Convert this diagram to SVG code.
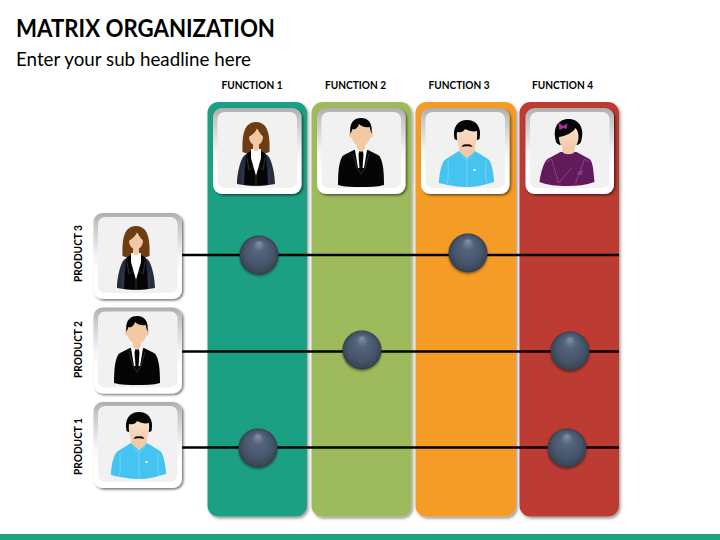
<svg xmlns="http://www.w3.org/2000/svg" xmlns:xlink="http://www.w3.org/1999/xlink" width="720" height="540" viewBox="0 0 720 540">
<style>
.t{font-family:"Lato","Open Sans","Liberation Sans",sans-serif;fill:#000}
.title{font-size:24.500px;font-weight:700}
.sub{font-size:18.600px}
.lab{font-size:11.300px;font-weight:700;text-anchor:middle}
.col{filter:url(#ds)}
.ln{stroke:#000;stroke-width:2.400;fill:none}
.skin{fill:#f3c9a5}
.skin2{fill:url(#skinG)}
.blk{fill:#050505}
.wht{fill:#fff}
.blue{fill:#45c4f1}
.bl2{stroke:#8fdcf6;stroke-width:.6;fill:none}
.pur{fill:#621a5c}
.pl{stroke:#a0609c;stroke-width:.6;fill:none}
.jk{stroke:#3a4252;stroke-width:.7;fill:none}
</style>
<defs>
<filter id="ds" x="-10%" y="-5%" width="120%" height="110%"><feDropShadow dx="1.500" dy="2" stdDeviation="1.500" flood-color="#000" flood-opacity=".4"/></filter>
<filter id="cs" x="-10%" y="-10%" width="125%" height="125%"><feDropShadow dx="1.500" dy="1.500" stdDeviation="1.200" flood-color="#000" flood-opacity=".55"/></filter>
<filter id="bs" x="-20%" y="-20%" width="140%" height="140%"><feDropShadow dx="0" dy="1.500" stdDeviation="1" flood-color="#000" flood-opacity=".45"/></filter>
<linearGradient id="edge" x1="0" y1="0" x2="0" y2="1"><stop offset="0" stop-color="#aeaeae"/><stop offset=".12" stop-color="#c4c4c4"/><stop offset=".5" stop-color="#f4f4f4"/><stop offset=".7" stop-color="#fff"/></linearGradient>
<linearGradient id="skinG" x1="0" y1="0" x2="0" y2="1"><stop offset="0" stop-color="#f8e0cc"/><stop offset="1" stop-color="#f3c6a3"/></linearGradient>
<radialGradient id="ball" cx=".5" cy=".5" r=".5" fx=".5" fy=".18"><stop offset="0" stop-color="#8793a5"/><stop offset=".3" stop-color="#55647a"/><stop offset=".75" stop-color="#44546a"/><stop offset=".95" stop-color="#3a4554"/><stop offset="1" stop-color="#323b48"/></radialGradient>
<g id="card">
<rect x="0" y="0" width="88.500" height="86" rx="9" fill="url(#edge)" filter="url(#cs)"/>
<rect x="4.500" y="4" width="79.500" height="76" rx="7" fill="#f1f1f1"/>
</g>
<g id="woman">
<path d="M29.500 44C29 30 30 14 43 14C56 14 57 30 56.500 44C53 46 33 46 29.500 44Z" fill="#6f3d12"/>
<path d="M24 76C24 68 27 50 32 47L38 43H48L54 47C59 50 62 68 62 76C50 78 36 78 24 76Z" fill="#242d3d"/>
<path class="blk" d="M31 77L33 46L38 43L43 66L48 43L53 46L55 77C48 78 38 78 31 77Z"/>
<path class="wht" d="M38 41H48L48 50L43 68L38 50Z"/>
<path class="skin" d="M40 34H46V41L43 44L40 41Z"/>
<ellipse class="skin" cx="43" cy="29" rx="7" ry="8.500"/>
<path d="M35.500 29C39 27 43 24 44 20C46 24 48 27 50.500 29L51 19L43 16L35 19Z" fill="#6f3d12"/>
<path class="jk" d="M34 50L36 62L40 59M52 50L50 62L46 59M43 66V78M29 60L30 76M57 60L56 76"/>
</g>
<g id="man">
<path class="blk" d="M21 77C21 64 22 50 27 47L37 42H51L61 47C66 50 67 64 67 77C60 79 52 79 44 79C36 79 28 79 21 77Z"/>
<path class="wht" d="M38 42L44 39L50 42L47 60H41Z"/>
<path class="blk" d="M42.500 43H45.500L46.500 46L45.500 61L44 64L42.500 61L41.500 46Z"/>
<path class="skin" d="M40 34H48V41L44 44L40 41Z"/>
<ellipse class="skin" cx="33.800" cy="26" rx="1.800" ry="3.500"/>
<ellipse class="skin" cx="54.200" cy="26" rx="1.800" ry="3.500"/>
<ellipse class="skin" cx="44" cy="26" rx="9.800" ry="12"/>
<path class="blk" d="M33.500 26C32 16 36 10 44 10C52 10 56 16 54.500 26L52.500 19C48 20 44 18 42 16C41 20 38 22 35.500 21Z"/>
<path class="jk" d="M36 46L40 60L44 66L48 60L52 46"/>
</g>
<g id="manb">
<path class="blue" d="M18 75C18 68 20 54 25 51L38 43L46 50L54 43L67 51C71 54 73 68 73 74C64 77 54 79 46 79C36 79 26 77 18 75Z"/>
<path class="skin" d="M38 36H54V43L46 50L38 43Z"/>
<path class="blk" d="M33.500 31C31 19 37 12 46 12C55 12 61 19 58.500 31C57 33 35 33 33.500 31Z"/>
<path class="skin2" d="M36 24C41 25 43 23 44 21C48 23 52 24 56 23C57 33 54 45 46 45C38 45 35 33 36 24Z"/>
<path class="blk" d="M40.500 39C42 36 45 36 46 36.800C47 36 50 36 51.500 39C49 38 43 38 40.500 39Z"/>
<path class="bl2" d="M27 53C27 61 28 69 26 76M65 53C65 61 64 69 66 76M46 50V79M40 46L45 52M52 46L47 52"/>
<rect class="wht" x="52.500" y="61" width="2" height="2"/>
</g>
<g id="womanp">
<path class="pur" d="M14 74C15 66 18 54 22 51L35 44H51L64 51C68 54 68 66 69 74C60 77 52 78 42 78C30 78 22 77 14 74Z"/>
<path class="skin" d="M37 36H49V44C47 47 39 47 37 44Z"/>
<path class="blk" d="M31 35C26 21 32 11 43 11C54 11 60 21 55 35L52 37H34Z"/>
<path class="skin2" d="M33.500 29C41 28 48 24 50 20C52 22 53 25 53 29C53 36 49 42 43 42C37 42 33.500 36 33.500 29Z"/>
<path d="M33 15L38 18L42 15L41 21L38 20L34 22Z" fill="#b32fa6"/>
<path class="pl" d="M21 54L26 51L33 75M64 54L59 51L50 75M33 75L46 60"/>
<path d="M52 64L58 62L56 67L52 67Z" fill="#8a3a86"/>
</g>
<g id="sph"><circle r="19.500" fill="url(#ball)" filter="url(#bs)"/></g>
</defs>

<rect width="720" height="540" fill="#fff"/>
<text class="t title" x="16" y="37" textLength="259" lengthAdjust="spacingAndGlyphs">MATRIX ORGANIZATION</text>
<text class="t sub" x="16" y="66" textLength="235" lengthAdjust="spacingAndGlyphs">Enter your sub headline here</text>

<g id="function-1">
<rect class="col" x="207.500" y="102" width="99.500" height="414.500" rx="11" fill="#1fa083"/>
<text class="t lab" x="252" y="89" textLength="61" lengthAdjust="spacingAndGlyphs">FUNCTION 1</text>
<use xlink:href="#card" href="#card" x="213" y="108"/>
<use xlink:href="#woman" href="#woman" x="213" y="108"/>
</g>
<g id="function-2">
<rect class="col" x="311.500" y="102" width="100" height="414.500" rx="11" fill="#9dbb5b"/>
<text class="t lab" x="355.500" y="89" textLength="61" lengthAdjust="spacingAndGlyphs">FUNCTION 2</text>
<use xlink:href="#card" href="#card" x="317" y="108"/>
<use xlink:href="#man" href="#man" x="317" y="108"/>
</g>
<g id="function-3">
<rect class="col" x="415.500" y="102" width="100.500" height="414.500" rx="11" fill="#f59c27"/>
<text class="t lab" x="459" y="89" textLength="61" lengthAdjust="spacingAndGlyphs">FUNCTION 3</text>
<use xlink:href="#card" href="#card" x="421" y="108"/>
<use xlink:href="#manb" href="#manb" x="421" y="108"/>
</g>
<g id="function-4">
<rect class="col" x="519.500" y="102" width="99.500" height="414.500" rx="11" fill="#bc3a30"/>
<text class="t lab" x="562.500" y="89" textLength="61" lengthAdjust="spacingAndGlyphs">FUNCTION 4</text>
<use xlink:href="#card" href="#card" x="525.500" y="108"/>
<use xlink:href="#womanp" href="#womanp" x="525.500" y="108"/>
</g>

<g id="connectors">
<path class="ln" d="M182 255H619"/>
<path class="ln" d="M182 351.500H619"/>
<path class="ln" d="M182 447.500H619"/>
</g>

<g id="product-3">
<text class="t lab" transform="translate(82 253.500) rotate(-90)" textLength="57" lengthAdjust="spacingAndGlyphs">PRODUCT 3</text>
<use xlink:href="#card" href="#card" x="93.500" y="213"/>
<use xlink:href="#woman" href="#woman" x="93" y="212"/>
</g>
<g id="product-2">
<text class="t lab" transform="translate(82 349.500) rotate(-90)" textLength="57" lengthAdjust="spacingAndGlyphs">PRODUCT 2</text>
<use xlink:href="#card" href="#card" x="93.500" y="307.500"/>
<use xlink:href="#man" href="#man" x="93" y="306"/>
</g>
<g id="product-1">
<text class="t lab" transform="translate(82 446.500) rotate(-90)" textLength="57" lengthAdjust="spacingAndGlyphs">PRODUCT 1</text>
<use xlink:href="#card" href="#card" x="93.500" y="402"/>
<use xlink:href="#manb" href="#manb" x="93" y="400"/>
</g>

<g id="node-p3-f1"><use xlink:href="#sph" href="#sph" x="259" y="255"/></g>
<g id="node-p3-f3"><use xlink:href="#sph" href="#sph" x="468" y="253"/></g>
<g id="node-p2-f2"><use xlink:href="#sph" href="#sph" x="362" y="350"/></g>
<g id="node-p2-f4"><use xlink:href="#sph" href="#sph" x="570" y="351"/></g>
<g id="node-p1-f1"><use xlink:href="#sph" href="#sph" x="258" y="448"/></g>
<g id="node-p1-f4"><use xlink:href="#sph" href="#sph" x="567" y="448"/></g>

<rect id="footer" x="0" y="534" width="720" height="6" fill="#1fa083"/>
</svg>
